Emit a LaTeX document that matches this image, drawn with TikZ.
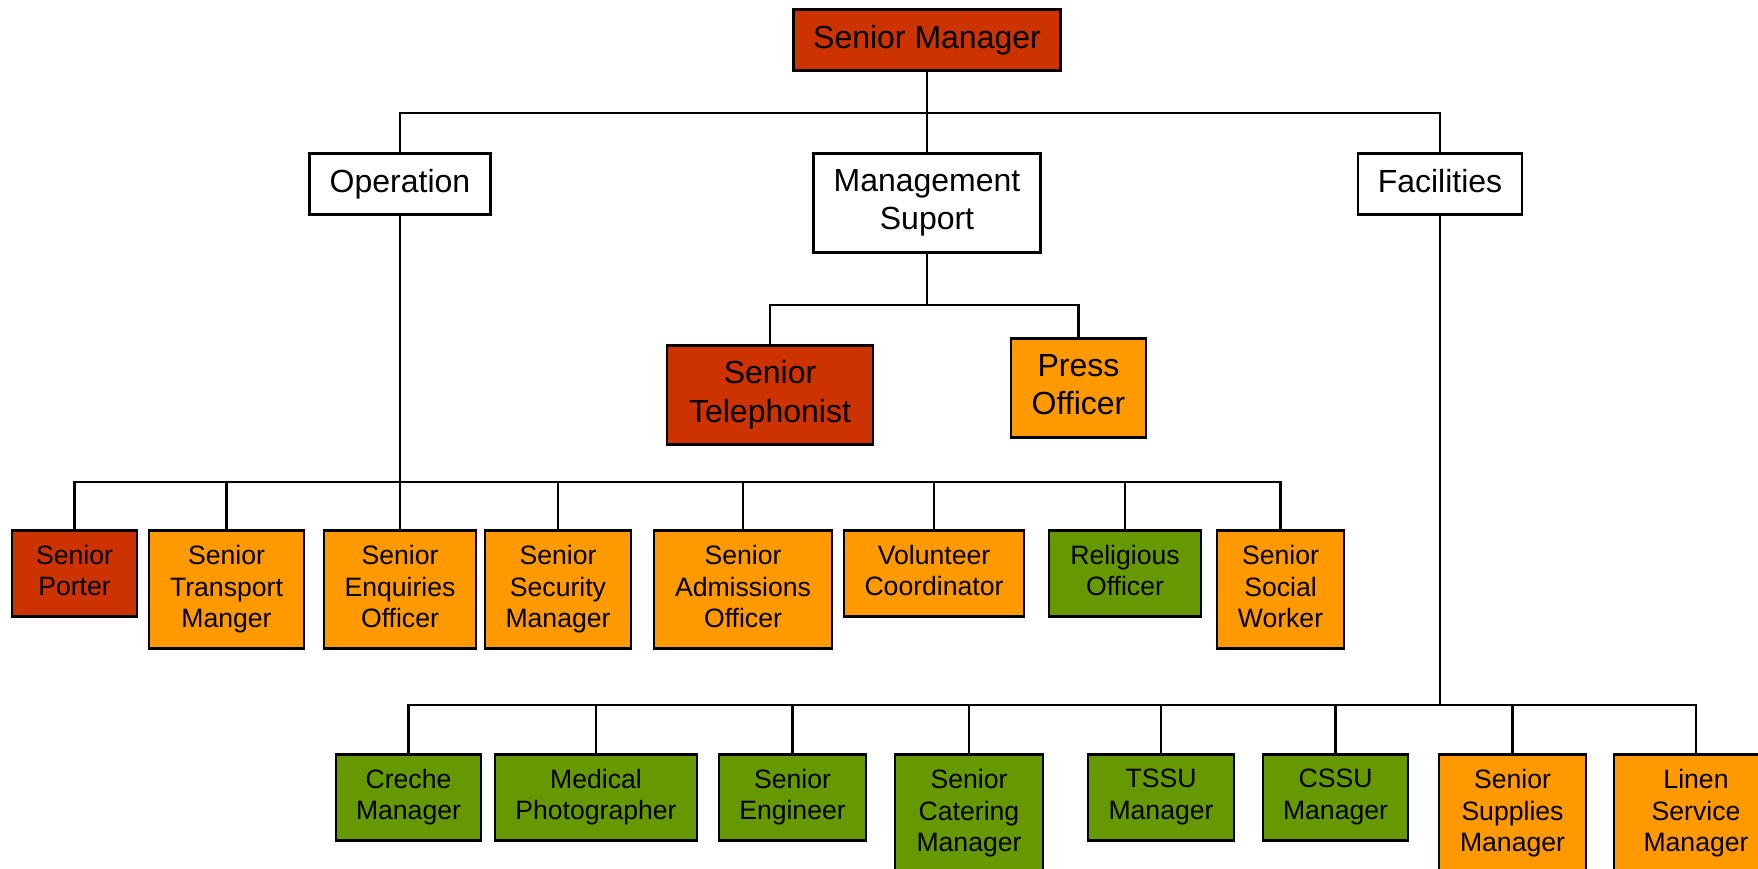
\documentclass[tikz,border=0pt]{standalone}
\usepackage{fontspec}
\setmainfont{Liberation Sans}
\usepackage{tikz}

\definecolor{rust}{HTML}{CC3300}
\definecolor{amber}{HTML}{FF9900}
\definecolor{leaf}{HTML}{669900}

\tikzset{
	unit/.style={draw, line width=2.5pt, anchor=north, align=center, inner sep=2pt, text=black,
		execute at begin node=\vphantom{Ag}, execute at end node=\vphantom{Ag}},
	head/.style={unit, font=\fontsize{32}{38.4}\selectfont, minimum height=61pt},
	post/.style={unit, font=\fontsize{26.6}{31.7}\selectfont},
	wire/.style={line width=2.5pt, line cap=rect},
}

\begin{document}
\begin{tikzpicture}[x=1pt, y=-1pt]
	\useasboundingbox (0,0) rectangle (1758,868);

	% top levels
	\node[head, fill=rust, minimum width=267pt] (chief) at (927,8) {Senior Manager};
	\node[head, fill=white, minimum width=181pt] (ops) at (400,152) {Operation};
	\node[head, fill=white, minimum width=227pt, minimum height=99pt] (mgmt) at (927,152) {Management\\Suport};
	\node[head, fill=white, minimum width=164pt] (fac) at (1440,152) {Facilities};
	\node[head, fill=rust, minimum width=206pt, minimum height=99pt] (phone) at (770,344) {Senior\\Telephonist};
	\node[head, fill=amber, minimum width=135pt, minimum height=99pt] (press) at (1078.5,337) {Press\\Officer};

	% operation staff
	\node[post, fill=rust, minimum width=125pt, minimum height=86pt] (porter) at (74.5,529) {Senior\\Porter};
	\node[post, fill=amber, minimum width=155pt, minimum height=118pt] (transport) at (226.5,529) {Senior\\Transport\\Manger};
	\node[post, fill=amber, minimum width=152pt, minimum height=118pt] (enquiries) at (400,529) {Senior\\Enquiries\\Officer};
	\node[post, fill=amber, minimum width=146pt, minimum height=118pt] (security) at (558,529) {Senior\\Security\\Manager};
	\node[post, fill=amber, minimum width=178pt, minimum height=118pt] (admissions) at (743,529) {Senior\\Admissions\\Officer};
	\node[post, fill=amber, minimum width=180pt, minimum height=86pt] (volunteer) at (934,529) {Volunteer\\Coordinator};
	\node[post, fill=leaf, minimum width=152pt, minimum height=86pt] (religious) at (1125,529) {Religious\\Officer};
	\node[post, fill=amber, minimum width=127pt, minimum height=118pt] (social) at (1280.5,529) {Senior\\Social\\Worker};

	% facilities staff
	\node[post, fill=leaf, minimum width=145pt, minimum height=86pt] (creche) at (408.5,753) {Creche\\Manager};
	\node[post, fill=leaf, minimum width=202pt, minimum height=86pt] (medical) at (596,753) {Medical\\Photographer};
	\node[post, fill=leaf, minimum width=147pt, minimum height=86pt] (engineer) at (792.5,753) {Senior\\Engineer};
	\node[post, fill=leaf, minimum width=148pt, minimum height=118pt] (catering) at (969,753) {Senior\\Catering\\Manager};
	\node[post, fill=leaf, minimum width=146pt, minimum height=86pt] (tssu) at (1161,753) {TSSU\\Manager};
	\node[post, fill=leaf, minimum width=145pt, minimum height=86pt] (cssu) at (1335.5,753) {CSSU\\Manager};
	\node[post, fill=amber, minimum width=147pt, minimum height=118pt] (supplies) at (1512.5,753) {Senior\\Supplies\\Manager};
	\node[post, fill=amber, minimum width=164pt, minimum height=118pt] (linen) at (1696,753) {Linen\\Service\\Manager};

	\coordinate (topbus) at (927,113);
	\coordinate (mgmtbus) at (927,305);
	\coordinate (opsbus) at (400,482);
	\coordinate (facbus) at (1440,705);

	\path[wire]
	(chief) edge (topbus)
	(topbus -| ops) edge (topbus -| fac)
	(topbus -| ops) edge (ops)
	(topbus) edge (mgmt)
	(topbus -| fac) edge (fac)
	;
	\path[wire]
	(mgmt) edge (mgmtbus)
	(mgmtbus -| phone) edge (mgmtbus -| press)
	(mgmtbus -| phone) edge (phone)
	(mgmtbus -| press) edge (press)
	;
	\path[wire]
	(ops) edge (opsbus)
	(opsbus -| porter) edge (opsbus -| social)
	(opsbus -| porter) edge (porter)
	(opsbus -| transport) edge (transport)
	(opsbus) edge (enquiries)
	(opsbus -| security) edge (security)
	(opsbus -| admissions) edge (admissions)
	(opsbus -| volunteer) edge (volunteer)
	(opsbus -| religious) edge (religious)
	(opsbus -| social) edge (social)
	;
	\path[wire]
	(fac) edge (facbus)
	(facbus -| creche) edge (facbus -| linen)
	(facbus -| creche) edge (creche)
	(facbus -| medical) edge (medical)
	(facbus -| engineer) edge (engineer)
	(facbus -| catering) edge (catering)
	(facbus -| tssu) edge (tssu)
	(facbus -| cssu) edge (cssu)
	(facbus -| supplies) edge (supplies)
	(facbus -| linen) edge (linen)
	;
\end{tikzpicture}
\end{document}
